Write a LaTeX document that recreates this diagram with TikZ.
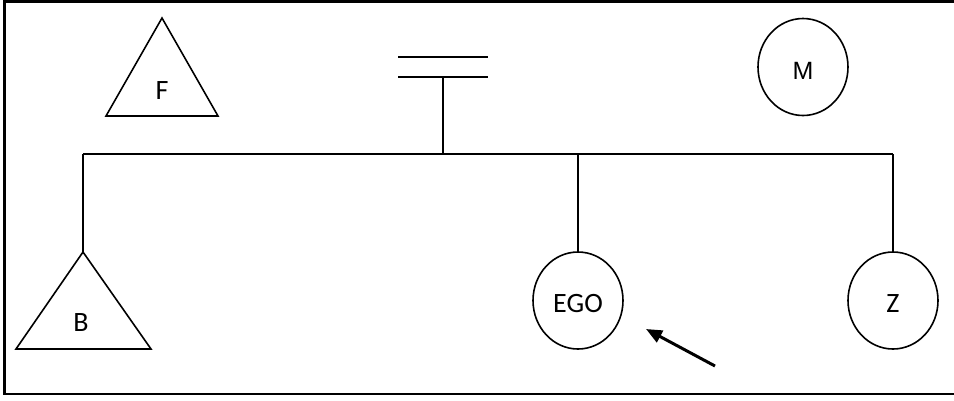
\documentclass[tikz,border=0pt]{standalone}
\usepackage{fontspec}
\setmainfont{Carlito}
\newfontfamily\arialfont{Liberation Sans}
\usetikzlibrary{shapes.geometric,arrows.meta}
\begin{document}
\begin{tikzpicture}[x=1pt,y=-1pt,
  line/.style={line width=1.6pt},
  frame/.style={line width=2.6pt},
  fem/.style={ellipse,draw,line width=1.6pt,minimum width=90pt,minimum height=97pt,inner sep=0pt,text height=24pt,text depth=0pt,font=\fontsize{28}{32}\selectfont},
  lab/.style={inner sep=0pt,font=\fontsize{28}{32}\selectfont},
  pointer/.style={line width=3pt,-{Triangle[length=16pt,width=13pt]}}]
\useasboundingbox (0,0) rectangle (954,400);
% frame (right side cut off)
\draw[frame] (956,1.5) -- (4.5,1.5) -- (4.5,394) -- (956,394);
% F triangle
\coordinate (Fa) at (162,18);
\coordinate (Fl) at (106,116);
\coordinate (Fr) at (218,116);
\draw[line,line join=miter] (Fa) -- (Fr) -- (Fl) -- cycle;
\node[lab] (F) at (162,91) {F};
% M
\node[fem,font=\arialfont\fontsize{25}{29}\selectfont] (M) at (803,67) {M};
% marriage sign
\coordinate (m1l) at (398,57);
\coordinate (m1r) at (488,57);
\coordinate (m2l) at (398,77);
\coordinate (m2r) at (488,77);
\coordinate (mc) at (443,77);
\draw[line] (m1l) -- (m1r);
\draw[line] (m2l) -- (m2r);
% sibling bar
\coordinate (barB) at (83,154);
\coordinate (barP) at (443,154);
\coordinate (barE) at (578,154);
\coordinate (barZ) at (893,154);
\draw[line] (mc) -- (barP);
\draw[line] (barB) -- (barZ);
% children
\node[fem] (EGO) at (578,300.5) {EGO};
\node[fem] (Z) at (893,300.5) {Z};
\coordinate (Ba) at (83,252);
\coordinate (Bl) at (16,349);
\coordinate (Br) at (151,349);
\draw[line,line join=miter] (Ba) -- (Br) -- (Bl) -- cycle;
\node[lab] (B) at (81,323) {B};
\draw[line] (barB) -- (Ba);
\draw[line] (barE) -- (EGO.north);
\draw[line] (barZ) -- (Z.north);
% arrow
\coordinate (arrS) at (715,366);
\coordinate (arrT) at (646,329);
\draw[pointer] (arrS) -- (arrT);
\end{tikzpicture}
\end{document}
